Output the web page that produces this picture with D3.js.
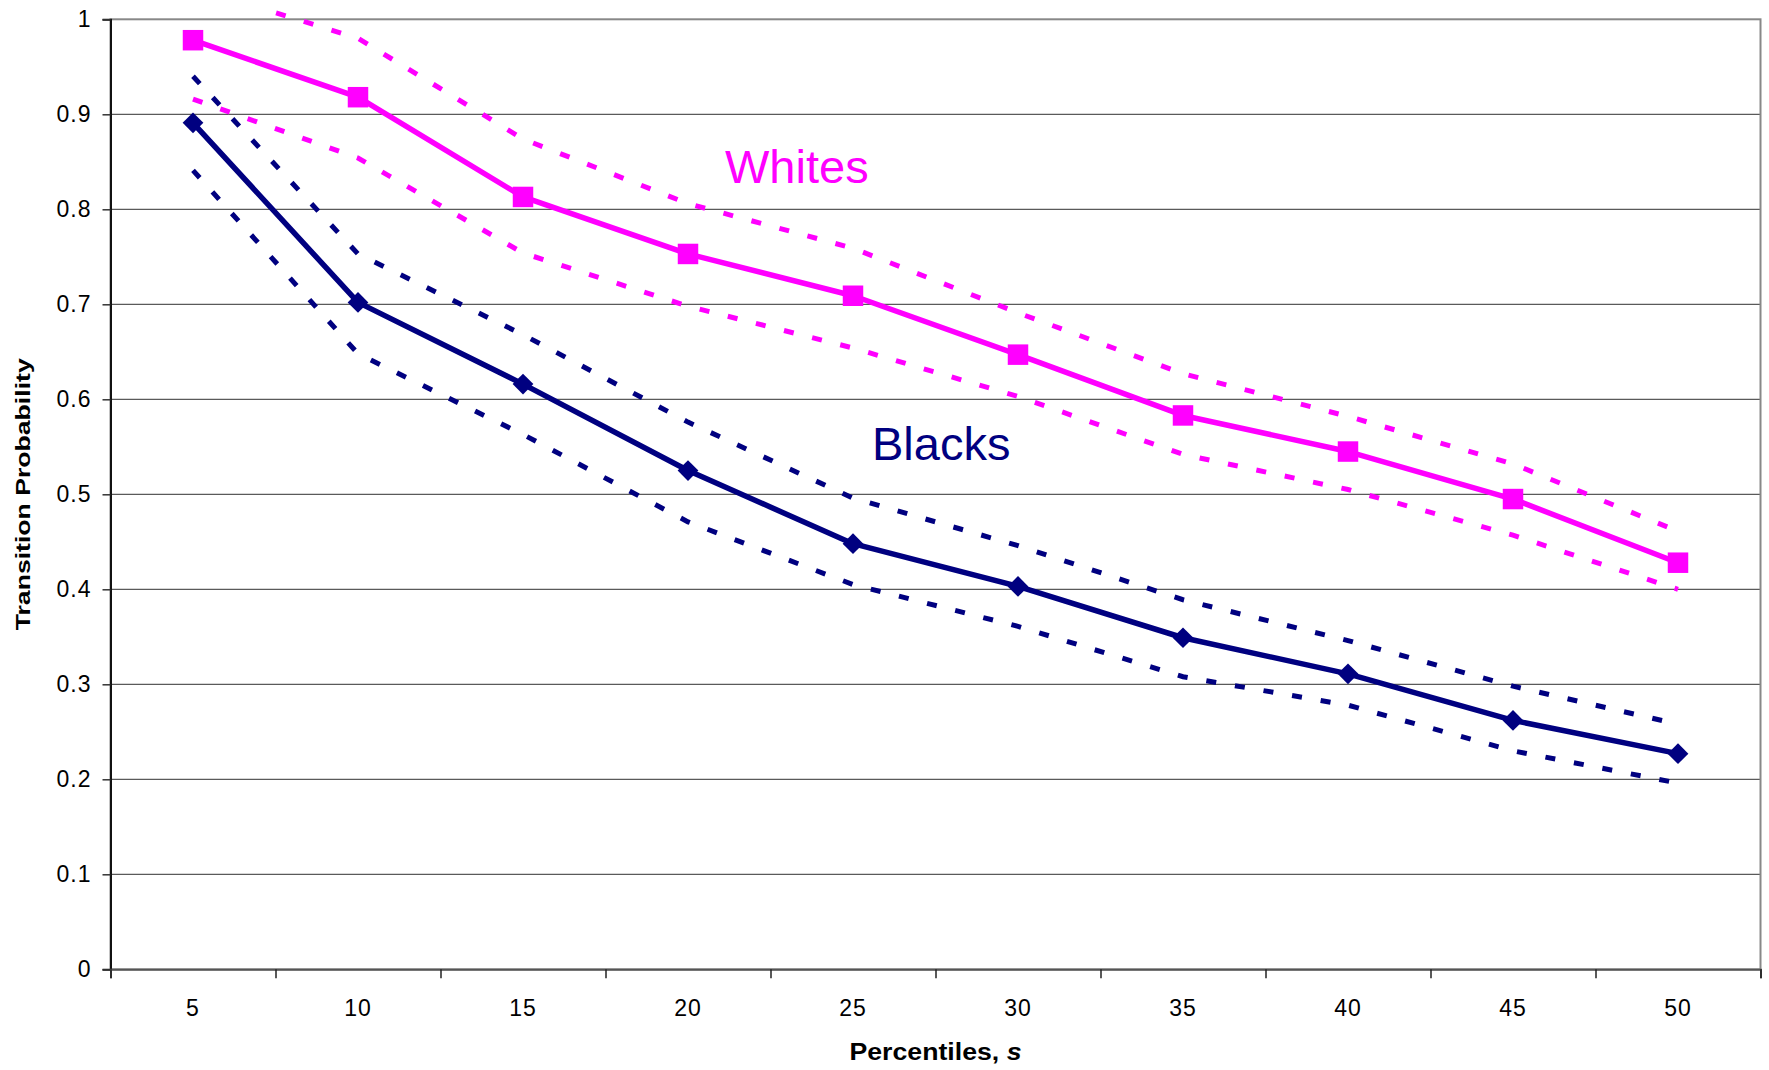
<html>
<script src="https://d3js.org/d3.v7.min.js"></script>
<style>
    body { margin: 0; background: white; }
    text { font-family: "Liberation Sans", Arial, sans-serif; }
</style>
<body>
<svg id="chart" width="1769" height="1070"></svg>
<script>
    // percentiles on the x axis
    const percentiles = [5, 10, 15, 20, 25, 30, 35, 40, 45, 50];

    // point estimates and the dotted bands around them
    const whites      = [0.978, 0.918, 0.813, 0.753, 0.709, 0.647, 0.583, 0.545, 0.495, 0.428];
    const whitesUpper = [1.034, 0.980, 0.874, 0.806, 0.759, 0.691, 0.627, 0.582, 0.532, 0.461];
    const whitesLower = [0.916, 0.854, 0.754, 0.698, 0.654, 0.603, 0.542, 0.505, 0.457, 0.400];
    const blacks      = [0.891, 0.702, 0.616, 0.525, 0.448, 0.403, 0.349, 0.311, 0.262, 0.227];
    const blacksUpper = [0.940, 0.753, 0.668, 0.576, 0.496, 0.446, 0.389, 0.346, 0.298, 0.258];
    const blacksLower = [0.841, 0.648, 0.563, 0.471, 0.405, 0.361, 0.308, 0.278, 0.230, 0.196];

    const yTicks = [0, 0.1, 0.2, 0.3, 0.4, 0.5, 0.6, 0.7, 0.8, 0.9, 1];
    const yTickLabels = ["0", "0.1", "0.2", "0.3", "0.4", "0.5", "0.6", "0.7", "0.8", "0.9", "1"];

    const pink = "#ff00ff";
    const navy = "#000080";

    var svg = d3.select("#chart");
    var pLeft = 110.5, pRight = 1760.5, pTop = 19.3, pBottom = 969.3;

    var x = d3.scaleBand().domain(percentiles).range([pLeft, pRight]).padding(0);
    var y = d3.scaleLinear().domain([0, 1]).range([pBottom, pTop]);
    // category boundaries, for the tick marks between categories
    var xb = d3.scaleLinear().domain([0, percentiles.length]).range([pLeft, pRight]);

    // gridlines
    svg.append("g")
        .selectAll("line")
        .data(yTicks.filter(d => d > 0 && d < 1))
        .enter().append("line")
        .attr("x1", pLeft).attr("x2", pRight)
        .attr("y1", d => y(d)).attr("y2", d => y(d))
        .attr("stroke", "#5a5a5a").attr("stroke-width", 1.2);

    // plot border (top & right in grey)
    svg.append("rect")
        .attr("x", pLeft).attr("y", y(1))
        .attr("width", pRight - pLeft).attr("height", pBottom - y(1))
        .attr("fill", "none").attr("stroke", "#888").attr("stroke-width", 2);

    // y axis
    var yAxis = svg.append("g")
        .attr("transform", "translate(" + pLeft + ",0)")
        .call(d3.axisLeft(y).tickValues(yTicks)
            .tickFormat((d, i) => yTickLabels[i])
            .tickSize(8).tickPadding(11));
    yAxis.select(".domain").attr("stroke", "#111").attr("stroke-width", 2);
    yAxis.selectAll(".tick line").attr("stroke", "#333").attr("stroke-width", 1.5);
    yAxis.selectAll("text")
        .style("font-family", "Liberation Sans, Arial, sans-serif")
        .style("font-size", "23px").style("letter-spacing", "1px").attr("fill", "#000");

    // x axis: tick marks on category boundaries
    var xTickAxis = svg.append("g")
        .attr("transform", "translate(0," + pBottom + ")")
        .call(d3.axisBottom(xb).tickValues(d3.range(percentiles.length + 1))
            .tickFormat("").tickSize(9));
    xTickAxis.select(".domain").attr("stroke", "#555").attr("stroke-width", 2);
    xTickAxis.selectAll(".tick line").attr("stroke", "#222").attr("stroke-width", 1.5);

    // x axis labels
    var xAxis = svg.append("g")
        .attr("transform", "translate(0," + pBottom + ")")
        .call(d3.axisBottom(x).tickSize(0).tickPadding(30));
    xAxis.select(".domain").remove();
    xAxis.selectAll("text")
        .style("font-family", "Liberation Sans, Arial, sans-serif")
        .style("font-size", "23px").style("letter-spacing", "1px").attr("fill", "#000");

    // axis titles
    svg.append("text")
        .attr("transform", "translate(29.5," + ((pTop + pBottom) / 2) + ") rotate(-90)")
        .attr("text-anchor", "middle")
        .attr("textLength", 272).attr("lengthAdjust", "spacingAndGlyphs")
        .style("font-size", "20px").style("font-weight", "bold")
        .text("Transition Probability");

    var xt = svg.append("text")
        .attr("x", (pLeft + pRight) / 2).attr("y", 1060)
        .attr("text-anchor", "middle")
        .attr("textLength", 172).attr("lengthAdjust", "spacingAndGlyphs")
        .style("font-size", "23px").style("font-weight", "bold");
    xt.append("tspan").text("Percentiles, ");
    xt.append("tspan").style("font-style", "italic").text("s");

    // series
    svg.append("clipPath").attr("id", "clip")
        .append("rect").attr("x", 100).attr("y", 10).attr("width", 1669).attr("height", 970);

    var cx = i => x(percentiles[i]) + x.bandwidth() / 2;
    var line = d3.line().x((d, i) => cx(i)).y(d => y(d));

    var plot = svg.append("g").attr("clip-path", "url(#clip)");

    function band(vals, color) {
        plot.append("path")
            .attr("d", line(vals))
            .attr("fill", "none").attr("stroke", color)
            .attr("stroke-width", 5).attr("stroke-dasharray", "10,19");
    }
    function series(vals, color) {
        plot.append("path")
            .attr("d", line(vals))
            .attr("fill", "none").attr("stroke", color)
            .attr("stroke-width", 5.5).attr("stroke-linejoin", "round");
    }

    band(blacksUpper, navy);
    band(blacksLower, navy);
    band(whitesUpper, pink);
    band(whitesLower, pink);
    series(blacks, navy);
    series(whites, pink);

    plot.selectAll(".diamond")
        .data(blacks).enter().append("path")
        .attr("class", "diamond")
        .attr("d", d3.symbol().type(d3.symbolSquare).size(215))
        .attr("transform", (d, i) => "translate(" + cx(i) + "," + y(d) + ") rotate(45)")
        .attr("fill", navy);

    plot.selectAll(".square")
        .data(whites).enter().append("path")
        .attr("class", "square")
        .attr("d", d3.symbol().type(d3.symbolSquare).size(420))
        .attr("transform", (d, i) => "translate(" + cx(i) + "," + y(d) + ")")
        .attr("fill", pink);

    // series labels
    svg.append("text")
        .attr("x", 725).attr("y", 183)
        .style("font-size", "47px").attr("fill", pink)
        .text("Whites");
    svg.append("text")
        .attr("x", 872).attr("y", 460)
        .style("font-size", "47px").attr("fill", navy)
        .text("Blacks");
</script>
</body>
</html>
